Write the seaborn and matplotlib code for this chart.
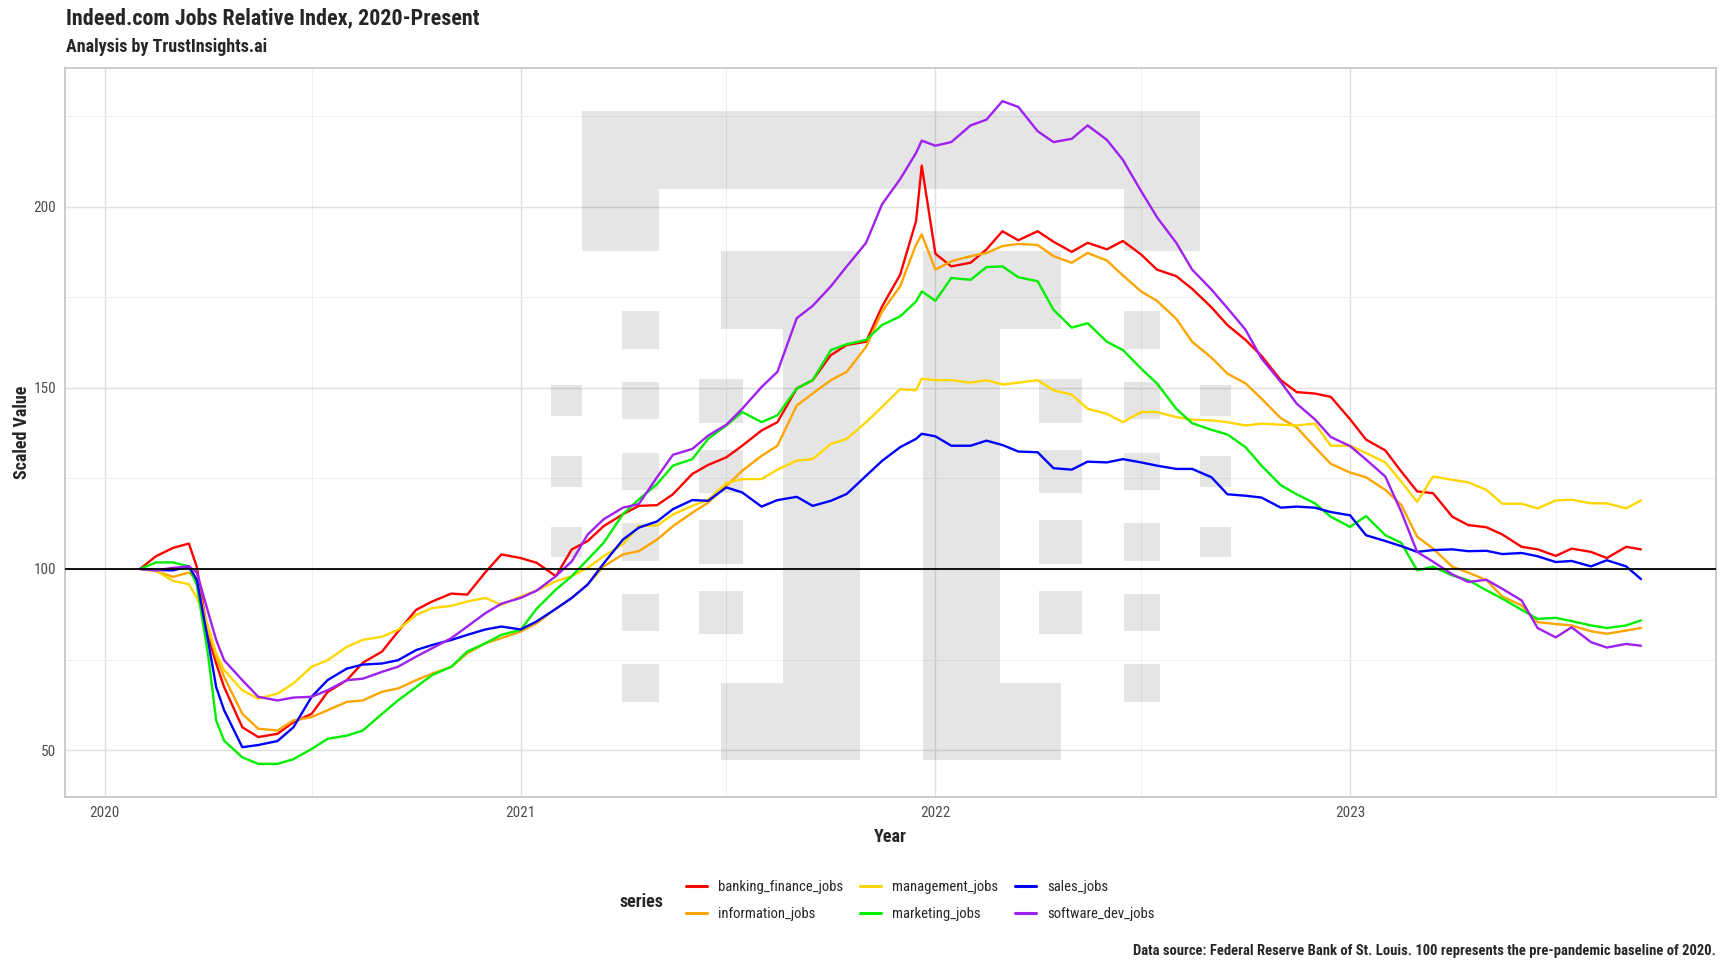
"""Indeed.com jobs relative index, 2020-present, redrawn with seaborn."""

import matplotlib

matplotlib.use("Agg")
import matplotlib.dates as mdates
import matplotlib.pyplot as plt
import pandas as pd
import seaborn as sns
from matplotlib import font_manager
from matplotlib.lines import Line2D
from matplotlib.patches import Rectangle
from matplotlib.ticker import MultipleLocator

# --- data (roughly semi-monthly) ---
dates = [
    "2020-02-01", "2020-02-15", "2020-03-01", "2020-03-15", "2020-03-22", "2020-04-01",
    "2020-04-08", "2020-04-15", "2020-05-01", "2020-05-15", "2020-06-01", "2020-06-15",
    "2020-07-01", "2020-07-15", "2020-08-01", "2020-08-15", "2020-09-01", "2020-09-15",
    "2020-10-01", "2020-10-15", "2020-11-01", "2020-11-15", "2020-12-01", "2020-12-15",
    "2021-01-01", "2021-01-15", "2021-02-01", "2021-02-15", "2021-03-01", "2021-03-15",
    "2021-04-01", "2021-04-15", "2021-05-01", "2021-05-15", "2021-06-01", "2021-06-15",
    "2021-07-01", "2021-07-15", "2021-08-01", "2021-08-15", "2021-09-01", "2021-09-15",
    "2021-10-01", "2021-10-15", "2021-11-01", "2021-11-15", "2021-12-01", "2021-12-15",
    "2021-12-20",
    "2022-01-01", "2022-01-15", "2022-02-01", "2022-02-15", "2022-03-01", "2022-03-15",
    "2022-04-01", "2022-04-15", "2022-05-01", "2022-05-15", "2022-06-01", "2022-06-15",
    "2022-07-01", "2022-07-15", "2022-08-01", "2022-08-15", "2022-09-01", "2022-09-15",
    "2022-10-01", "2022-10-15", "2022-11-01", "2022-11-15", "2022-12-01", "2022-12-15",
    "2023-01-01", "2023-01-15", "2023-02-01", "2023-02-15", "2023-03-01", "2023-03-15",
    "2023-04-01", "2023-04-15", "2023-05-01", "2023-05-15", "2023-06-01", "2023-06-15",
    "2023-07-01", "2023-07-15", "2023-08-01", "2023-08-15", "2023-09-01", "2023-09-14",
]

banking_finance_jobs = [
    100, 103.5, 105.8, 107.0, 100.5, 81.5, 73.9, 67.4, 56.3, 53.6, 54.5, 57.7,
    60.0, 66.0, 69.3, 74.1, 77.2, 82.7, 88.7, 91.0, 93.2, 92.9, 99.1, 104.0,
    103.0, 101.7, 98.0, 105.4, 107.7, 111.8, 115.1, 117.4, 117.6, 120.6, 126.2, 128.7,
    130.8, 134.0, 138.2, 140.5, 149.8, 152.1, 159.0, 161.8, 162.7, 172.4, 181.2, 196.0,
    211.3,
    187.0, 183.5, 184.5, 188.2, 193.2, 190.7, 193.2, 190.3, 187.5, 190.0, 188.2, 190.5,
    186.8, 182.6, 180.8, 177.3, 172.2, 167.3, 163.2, 158.8, 152.1, 148.8, 148.4, 147.5,
    141.3, 135.7, 132.7, 126.9, 121.4, 120.9, 114.4, 112.1, 111.5, 109.5, 106.1, 105.4,
    103.6, 105.6, 104.7, 103.0, 106.1, 105.4,
]
information_jobs = [
    100, 99.4, 97.8, 99.0, 97.0, 83.0, 75.8, 70.2, 60.0, 55.9, 55.4, 58.2,
    59.1, 61.0, 63.3, 63.7, 66.1, 67.0, 69.3, 71.1, 73.0, 76.7, 79.5, 80.9,
    82.7, 85.0, 89.0, 92.0, 95.7, 100.7, 104.0, 104.9, 108.1, 111.8, 115.5, 118.3,
    122.9, 127.1, 131.2, 134.0, 145.1, 148.4, 152.1, 154.4, 161.3, 171.0, 178.0, 189.5,
    192.3,
    182.6, 184.9, 186.3, 187.2, 189.1, 189.7, 189.4, 186.3, 184.5, 187.2, 185.1, 181.0,
    176.6, 174.0, 169.0, 162.7, 158.3, 153.9, 151.2, 147.0, 141.6, 139.1, 133.6, 129.0,
    126.6, 125.3, 121.8, 117.7, 108.9, 105.6, 100.6, 99.0, 96.9, 92.4, 89.9, 85.3,
    84.8, 84.4, 82.8, 82.1, 83.0, 83.7,
]
management_jobs = [
    100, 99.5, 96.7, 95.8, 92.0, 84.0, 76.7, 72.1, 66.5, 64.2, 65.6, 68.4,
    73.0, 74.8, 78.5, 80.4, 81.3, 83.2, 87.3, 89.2, 89.8, 91.0, 92.0, 90.1,
    92.4, 94.0, 96.6, 98.0, 100.3, 103.5, 106.8, 111.8, 112.0, 115.0, 117.4, 119.1,
    123.7, 124.8, 124.8, 127.4, 129.9, 130.3, 134.5, 135.9, 140.5, 144.7, 149.6, 149.3,
    152.5,
    152.1, 152.1, 151.4, 152.1, 150.9, 151.4, 152.1, 149.3, 148.1, 144.2, 142.8, 140.5,
    143.3, 143.3, 141.9, 141.2, 141.0, 140.5, 139.6, 140.1, 139.8, 139.6, 140.1, 134.0,
    134.0, 132.0, 129.4, 124.1, 118.5, 125.5, 124.6, 123.9, 121.8, 118.0, 118.0, 116.7,
    118.9, 119.1, 118.1, 118.1, 116.7, 118.9,
]
marketing_jobs = [
    100, 101.8, 101.8, 100.7, 95.5, 76.0, 58.2, 52.6, 48.0, 46.2, 46.2, 47.5,
    50.3, 53.1, 54.0, 55.4, 60.0, 63.7, 67.4, 70.7, 73.0, 77.2, 79.5, 81.8,
    83.2, 89.0, 94.3, 98.0, 102.6, 107.2, 115.1, 119.2, 123.4, 128.5, 130.3, 135.9,
    139.6, 143.3, 140.5, 142.4, 149.8, 152.1, 160.4, 162.0, 163.2, 167.3, 169.7, 173.8,
    176.6,
    174.0, 180.3, 179.8, 183.3, 183.5, 180.5, 179.4, 171.5, 166.6, 167.8, 162.7, 160.4,
    155.3, 151.2, 144.2, 140.2, 138.4, 137.1, 133.6, 128.5, 123.1, 120.6, 118.1, 114.4,
    111.6, 114.6, 109.3, 107.2, 99.6, 100.6, 98.2, 96.9, 94.1, 91.8, 88.7, 86.2,
    86.5, 85.6, 84.4, 83.7, 84.4, 85.8,
]
sales_jobs = [
    100, 99.7, 99.6, 100.7, 97.0, 80.0, 67.4, 61.0, 50.8, 51.4, 52.5, 56.3,
    64.7, 69.3, 72.5, 73.6, 73.9, 74.8, 77.6, 79.0, 80.4, 81.8, 83.3, 84.1,
    83.3, 85.5, 89.0, 92.0, 95.7, 101.5, 108.1, 111.4, 113.1, 116.5, 119.0, 118.8,
    122.5, 121.1, 117.2, 119.0, 119.9, 117.4, 118.8, 120.7, 125.7, 129.8, 133.6, 135.9,
    137.3,
    136.6, 134.0, 134.0, 135.4, 134.2, 132.4, 132.2, 127.8, 127.4, 129.6, 129.4, 130.3,
    129.4, 128.5, 127.6, 127.6, 125.3, 120.6, 120.2, 119.7, 116.9, 117.2, 116.9, 115.7,
    114.8, 109.3, 107.7, 106.3, 104.7, 105.2, 105.4, 104.9, 105.0, 104.1, 104.4, 103.5,
    101.9, 102.2, 100.7, 102.4, 100.7, 97.2,
]
software_dev_jobs = [
    100, 99.6, 100.3, 100.7, 99.0, 88.0, 80.4, 74.8, 69.3, 64.7, 63.7, 64.5,
    64.7, 66.5, 69.3, 69.7, 71.6, 73.0, 75.8, 78.1, 80.9, 84.1, 87.8, 90.4,
    92.0, 94.0, 98.0, 102.1, 109.5, 113.7, 116.9, 117.9, 125.3, 131.5, 133.1, 136.8,
    139.8, 144.2, 150.2, 154.4, 169.2, 172.6, 178.0, 183.5, 190.0, 200.6, 207.6, 214.8,
    218.2,
    216.8, 217.8, 222.4, 224.0, 229.1, 227.5, 220.8, 217.8, 218.7, 222.4, 218.4, 212.9,
    204.3, 197.1, 190.0, 182.6, 177.1, 172.0, 166.0, 158.1, 151.6, 145.6, 141.3, 136.4,
    133.9, 130.2, 125.5, 115.8, 104.7, 102.0, 98.5, 96.4, 97.0, 94.5, 91.3, 83.7,
    81.1, 83.9, 79.8, 78.3, 79.3, 78.8,
]

series_names = [
    "banking_finance_jobs", "information_jobs", "management_jobs",
    "marketing_jobs", "sales_jobs", "software_dev_jobs",
]
series_values = [
    banking_finance_jobs, information_jobs, management_jobs,
    marketing_jobs, sales_jobs, software_dev_jobs,
]
series_colors = ["#FF0000", "#FFA500", "#FFD700", "#00EE00", "#0000FF", "#A020F0"]

# --- style ---
sns.set_style("white")
available = {f.name for f in font_manager.fontManager.ttflist}
family = "DejaVu Sans"
for cand in ["Liberation Sans Narrow", "Roboto Condensed", "Roboto", "Liberation Sans"]:
    if cand in available:
        family = cand
        break
plt.rcParams["font.family"] = [family, "DejaVu Sans"]

W, H = 1728, 972
fig = plt.figure(figsize=(W / 100, H / 100), dpi=100)
# panel edges in pixels of the reference
px_left, px_right, px_top, px_bottom = 65, 1716, 68, 797
ax = fig.add_axes([
    px_left / W, 1 - px_bottom / H, (px_right - px_left) / W, (px_bottom - px_top) / H,
])

# --- watermark (pixel boxes x0, y0, x1, y1) ---
wm_boxes = [
    (581.5, 111.5, 1199.8, 188.9), (581.5, 188.9, 659.2, 250.6), (1123.5, 188.9, 1199.8, 250.6),
    (720.8, 250.6, 860.1, 328.6), (783.3, 328.6, 860.1, 683.3), (720.8, 683.3, 860.1, 760.3),
    (922.6, 250.6, 1061.0, 328.6), (922.6, 328.6, 999.8, 683.3), (922.6, 683.3, 1061.0, 760.3),
]
rows_a = [(385.0, 416.2), (456.0, 486.8), (526.5, 557.3)]
rows_b = [(311.5, 348.7), (382.1, 419.2), (453.0, 490.2), (523.1, 560.7), (593.6, 630.8),
          (664.1, 701.7)]
rows_c = [(379.1, 422.6), (449.6, 493.2), (520.1, 563.7), (590.6, 634.2)]
for (x0, x1), rows in [
    ((551.2, 581.5), rows_a), ((622.1, 659.2), rows_b), ((699.4, 743.1), rows_c),
    ((1039.1, 1082.4), rows_c), ((1123.5, 1159.6), rows_b), ((1199.8, 1230.6), rows_a),
]:
    for y0, y1 in rows:
        wm_boxes.append((x0, y0, x1, y1))
for x0, y0, x1, y1 in wm_boxes:
    ax.add_patch(Rectangle(
        (x0 / W, 1 - y1 / H), (x1 - x0) / W, (y1 - y0) / H,
        transform=fig.transFigure, facecolor="#525252", alpha=0.15,
        linewidth=0, zorder=1,
    ))

# --- lines ---
df = pd.concat(
    [pd.DataFrame({"date": pd.to_datetime(dates), "value": vals, "series": name})
     for name, vals in zip(series_names, series_values)],
    ignore_index=True,
)
sns.lineplot(
    data=df, x="date", y="value", hue="series", hue_order=series_names,
    palette=dict(zip(series_names, series_colors)), linewidth=1.7,
    estimator=None, legend=False, ax=ax, zorder=2,
)
ax.axhline(100, color="black", linewidth=1.3, zorder=3)

# ggplot-like 5% expansion
xnum = mdates.date2num(pd.to_datetime(dates))
xspan = xnum.max() - xnum.min()
ax.set_xlim(xnum.min() - 0.05 * xspan, xnum.max() + 0.05 * xspan)
ymin = min(min(v) for v in series_values)
ymax = max(max(v) for v in series_values)
ax.set_ylim(ymin - 0.05 * (ymax - ymin), ymax + 0.05 * (ymax - ymin))

ax.xaxis.set_major_locator(mdates.YearLocator())
ax.xaxis.set_major_formatter(mdates.DateFormatter("%Y"))
ax.xaxis.set_minor_locator(mdates.MonthLocator(bymonth=7))
ax.yaxis.set_major_locator(MultipleLocator(50))
ax.yaxis.set_minor_locator(MultipleLocator(25))
ax.set_axisbelow(True)
ax.grid(which="major", color="#E0E0E0", linewidth=1.0)
ax.grid(which="minor", color="#EFEFEF", linewidth=0.7)
ax.tick_params(axis="both", which="major", length=3.5, width=0.8, color="#BBBBBB",
               labelsize=11, labelcolor="#4D4D4D", pad=3)
ax.tick_params(axis="both", which="minor", length=0)
for sp in ax.spines.values():
    sp.set_color("#C8C8C8")
    sp.set_linewidth(1.3)

ax.set_xlabel("Year", fontsize=13, fontweight="bold", labelpad=6)
ax.set_ylabel("Scaled Value", fontsize=13, fontweight="bold", labelpad=2)

# --- titles and caption ---
fig.text(66 / W, 1 - 18 / H, "Indeed.com Jobs Relative Index, 2020-Present",
         fontsize=15.8, fontweight="bold", ha="left", va="center")
fig.text(66 / W, 1 - 47.5 / H, "Analysis by TrustInsights.ai",
         fontsize=13, fontweight="bold", ha="left", va="center")
fig.text(1716 / W, 1 - 951 / H,
         "Data source: Federal Reserve Bank of St. Louis. "
         "100 represents the pre-pandemic baseline of 2020.",
         fontsize=10.5, fontweight="bold", ha="right", va="center")

# --- legend at the bottom ---
handles = [Line2D([], [], color=c, linewidth=2.2) for c in series_colors]
fig.legend(
    handles, series_names, ncol=3, loc="center",
    bbox_to_anchor=(920 / W, 1 - 900.5 / H), frameon=False, fontsize=10.5,
    handlelength=1.45, handletextpad=0.75, columnspacing=1.15, labelspacing=0.85,
)
fig.text(620 / W, 1 - 901.5 / H, "series", fontsize=13, fontweight="bold",
         ha="left", va="center")

fig.savefig("out.png", dpi=100)
